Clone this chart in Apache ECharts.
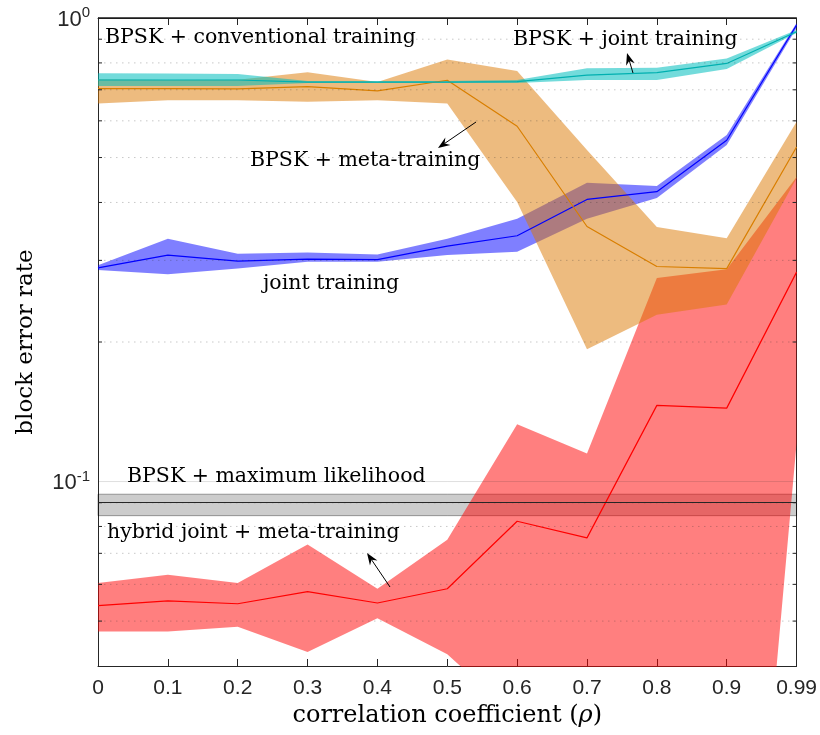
<!DOCTYPE html>
<html>
<head>
<meta charset="utf-8">
<script src="https://cdn.jsdelivr.net/npm/echarts@6/dist/echarts.min.js"></script>
<style>
  html, body { margin: 0; padding: 0; background: #fff; }
  #chart { width: 820px; height: 735px; }
</style>
</head>
<body>
<div id="chart"></div>
<script>
// correlation coefficient (rho) categories
const rhoLabels = ['0', '0.1', '0.2', '0.3', '0.4', '0.5', '0.6', '0.7', '0.8', '0.9', '0.99'];

// joint training (blue)
const jointMean = [0.289, 0.308, 0.299, 0.302, 0.301, 0.322, 0.339, 0.406, 0.422, 0.545, 0.966];
const jointLow  = [0.286, 0.280, 0.288, 0.298, 0.298, 0.308, 0.313, 0.369, 0.409, 0.532, 0.952];
const jointHigh = [0.293, 0.334, 0.310, 0.312, 0.309, 0.334, 0.369, 0.441, 0.434, 0.559, 0.975];

// hybrid joint + meta-training (red)
const hybridMean = [0.0540, 0.0553, 0.0545, 0.0579, 0.0547, 0.0587, 0.0821, 0.0756, 0.146, 0.144, 0.283];
const hybridLow  = [0.0475, 0.0475, 0.0486, 0.0429, 0.0507, 0.0424, 0.031, 0.020, 0.015, 0.0025, 0.121];
const hybridHigh = [0.0604, 0.0629, 0.0604, 0.0731, 0.0587, 0.0749, 0.133, 0.115, 0.275, 0.287, 0.454];

// BPSK + meta-training (orange)
const metaMean = [0.704, 0.704, 0.703, 0.711, 0.696, 0.734, 0.584, 0.355, 0.291, 0.288, 0.527];
const metaLow  = [0.654, 0.665, 0.665, 0.660, 0.665, 0.654, 0.401, 0.193, 0.229, 0.241, 0.451];
const metaHigh = [0.738, 0.735, 0.736, 0.764, 0.728, 0.814, 0.769, 0.519, 0.354, 0.335, 0.597];

// BPSK + joint training (cyan)
const bpskJointMean = [0.735, 0.735, 0.735, 0.727, 0.727, 0.727, 0.729, 0.753, 0.762, 0.798, 0.934];
const bpskJointLow  = [0.713, 0.713, 0.713, 0.724, 0.724, 0.724, 0.724, 0.735, 0.735, 0.776, 0.928];
const bpskJointHigh = [0.760, 0.759, 0.757, 0.731, 0.731, 0.731, 0.735, 0.779, 0.781, 0.818, 0.942];

// BPSK + maximum likelihood (low, mean, high) and BPSK + conventional training
const mlBand = [0.0844, 0.0892, 0.0939];
const convBler = 1.0;

// horizontal grid values of the log axis
const minorTicks = [0.05, 0.06, 0.07, 0.08, 0.09, 0.2, 0.3, 0.4, 0.5, 0.6, 0.7, 0.8, 0.9];
const majorGrid = [0.1];

const serif = '"DejaVu Serif", serif';
const sans = '"Liberation Sans", Arial, sans-serif';
const axisColor = '#262626';

const chart = echarts.init(document.getElementById('chart'));

function band(name, low, high, color) {
  const diff = high.map((h, i) => h - low[i]);
  return [
    {
      name: name + ' low', type: 'line', stack: name, data: low,
      symbol: 'none', silent: true, lineStyle: { opacity: 0 }
    },
    {
      name: name + ' band', type: 'line', stack: name, data: diff,
      symbol: 'none', silent: true, lineStyle: { opacity: 0 },
      areaStyle: { color: color, opacity: 1 }
    }
  ];
}

function meanLine(name, data, color) {
  return {
    name: name, type: 'line', data: data, symbol: 'none', silent: true,
    lineStyle: { color: color, width: 1.2 }
  };
}

function arrow(x1, y1, x2, y2) {
  const a = Math.atan2(y2 - y1, x2 - x1);
  const len = 12, half = 4.5, back = 8;
  const bx = x2 - len * Math.cos(a), by = y2 - len * Math.sin(a);
  const nx = x2 - back * Math.cos(a), ny = y2 - back * Math.sin(a);
  const px = -Math.sin(a) * half, py = Math.cos(a) * half;
  return [
    { type: 'line', shape: { x1: x1, y1: y1, x2: nx, y2: ny }, style: { stroke: '#000', lineWidth: 1 }, z: 100 },
    {
      type: 'polygon', z: 100,
      shape: { points: [[x2, y2], [bx + px, by + py], [nx, ny], [bx - px, by - py]] },
      style: { fill: '#000' }
    }
  ];
}

function label(text, x, y) {
  return {
    type: 'text', x: x, y: y, z: 100,
    style: { text: text, font: '20.5px ' + serif, fill: '#000', verticalAlign: 'middle', textVerticalAlign: 'middle' }
  };
}

function logLabel(v) {
  const e = Math.round(Math.log10(v));
  if (Math.abs(Math.log10(v) - e) > 1e-6) return '';
  return '{b|10}{s|' + e + '}';
}

const gridData = minorTicks.map(v => [0, v, 0]).concat(majorGrid.map(v => [0, v, 1]));

const option = {
  animation: false,
  grid: { left: 98, right: 22, top: 18, bottom: 69 },
  xAxis: [
    {
      type: 'category', data: rhoLabels, boundaryGap: false,
      name: 'correlation coefficient ({i|ρ})', nameLocation: 'middle', nameGap: 35,
      nameTextStyle: {
        fontFamily: serif, fontSize: 24, color: '#000',
        rich: { i: { fontFamily: serif, fontSize: 24, fontStyle: 'italic', color: '#000' } }
      },
      axisLine: { lineStyle: { color: axisColor } },
      axisTick: { inside: true, length: 7, interval: 0, lineStyle: { color: axisColor } },
      axisLabel: { interval: 0, margin: 12, fontFamily: sans, fontSize: 21, color: axisColor },
      splitLine: { show: false }
    },
    {
      type: 'category', data: rhoLabels, boundaryGap: false, position: 'top',
      axisLine: { lineStyle: { color: axisColor } },
      axisTick: { inside: true, length: 7, interval: 0, lineStyle: { color: axisColor } },
      axisLabel: { show: false }, splitLine: { show: false }
    }
  ],
  yAxis: [
    {
      type: 'log', logBase: 10, min: 0.04, max: 1,
      name: 'block error rate', nameLocation: 'middle', nameGap: 60,
      nameTextStyle: { fontFamily: serif, fontSize: 23, color: '#000' },
      axisLine: { show: true, lineStyle: { color: axisColor } },
      axisTick: { inside: true, length: 8, lineStyle: { color: axisColor } },
      axisLabel: {
        margin: 8, formatter: logLabel,
        rich: {
          b: { fontFamily: sans, fontSize: 22, color: axisColor, lineHeight: 25, verticalAlign: 'bottom' },
          s: { fontFamily: sans, fontSize: 15, color: axisColor, lineHeight: 25, verticalAlign: 'top' }
        }
      },
      splitLine: { show: false }
    },
    {
      type: 'log', logBase: 10, min: 0.04, max: 1, position: 'right',
      axisLine: { show: true, lineStyle: { color: axisColor } },
      axisTick: { inside: true, length: 8, lineStyle: { color: axisColor } },
      axisLabel: { show: false }, splitLine: { show: false }
    }
  ],
  series: [
    ...band('joint', jointLow, jointHigh, 'rgba(0,0,255,0.5)'),
    meanLine('joint training', jointMean, '#0000ff'),
    ...band('hybrid', hybridLow, hybridHigh, 'rgba(255,0,0,0.5)'),
    {
      name: 'BPSK + maximum likelihood', type: 'line', data: [], silent: true,
      markArea: {
        silent: true,
        itemStyle: { color: 'rgba(0,0,0,0.2)', borderColor: 'rgba(0,0,0,0.35)', borderWidth: 1 },
        data: [[{ yAxis: mlBand[0] }, { yAxis: mlBand[2] }]]
      },
      markLine: {
        silent: true, symbol: 'none', label: { show: false },
        lineStyle: { type: 'solid', color: axisColor, width: 1.2 },
        data: [{ yAxis: mlBand[1] }, { yAxis: convBler, lineStyle: { width: 1.6, color: '#1a1a1a' } }]
      }
    },
    meanLine('hybrid joint + meta-training', hybridMean, '#ff0000'),
    ...band('meta', metaLow, metaHigh, 'rgba(220,120,0,0.5)'),
    meanLine('BPSK + meta-training', metaMean, '#d97f00'),
    ...band('bpskJoint', bpskJointLow, bpskJointHigh, 'rgba(0,190,190,0.55)'),
    meanLine('BPSK + joint training', bpskJointMean, '#00b0b0'),
    {
      name: 'grid', type: 'custom', silent: true, z: 5,
      data: gridData,
      encode: { x: 0, y: 1 },
      renderItem: function (params, api) {
        const v = api.value(1);
        const major = api.value(2) === 1;
        const p0 = api.coord([0, v]);
        const p1 = api.coord([rhoLabels.length - 1, v]);
        const children = [{
          type: 'line',
          shape: { x1: p0[0], y1: p0[1], x2: p1[0], y2: p1[1] },
          style: major
            ? { stroke: 'rgba(38,38,38,0.15)', lineWidth: 1 }
            : { stroke: 'rgba(38,38,38,0.25)', lineWidth: 1, lineDash: [1.5, 4.5] }
        }];
        if (!major) {
          children.push(
            { type: 'line', shape: { x1: p0[0], y1: p0[1], x2: p0[0] + 4, y2: p0[1] }, style: { stroke: axisColor, lineWidth: 1 } },
            { type: 'line', shape: { x1: p1[0] - 4, y1: p1[1], x2: p1[0], y2: p1[1] }, style: { stroke: axisColor, lineWidth: 1 } }
          );
        }
        return { type: 'group', children: children };
      }
    }
  ],
  graphic: [
    label('BPSK + conventional training', 105, 38),
    label('BPSK + joint training', 513, 40),
    label('BPSK + meta-training', 250, 161),
    label('joint training', 263, 284),
    label('BPSK + maximum likelihood', 127, 477),
    label('hybrid joint + meta-training', 107, 533),
    ...arrow(633, 73, 627, 53),
    ...arrow(476, 122, 438, 148),
    ...arrow(390, 587, 367, 553)
  ]
};

chart.setOption(option);
</script>
</body>
</html>
